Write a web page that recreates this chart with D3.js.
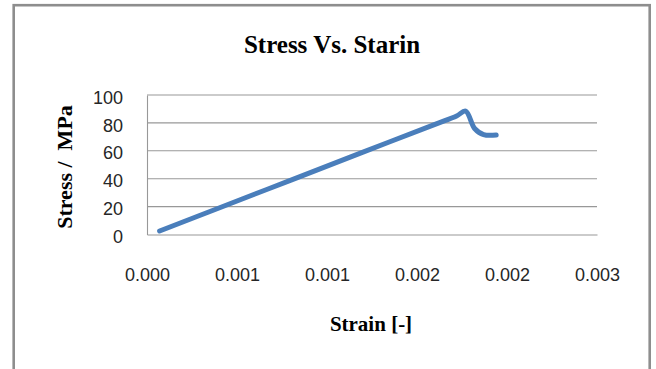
<!DOCTYPE html>
<html>
<head>
<meta charset="utf-8">
<script src="https://cdn.jsdelivr.net/npm/d3@7"></script>
<style>
  html, body { margin: 0; padding: 0; background: #fff; }
  svg { display: block; }
</style>
</head>
<body>
<svg id="chart" width="656" height="369"></svg>
<script>
// Measured stress-strain curve of the specimen
const strain = [0.00007, 0.0004, 0.0008, 0.0012, 0.0016, 0.00172, 0.00177, 0.00182, 0.00187, 0.00194];
const stress = [2.5, 19, 39, 59, 79, 85, 88.4, 76, 71.6, 71.3];

// Axis ticks and their printed labels (three decimals, as in the source workbook)
const xTicks = [0, 0.0005, 0.001, 0.0015, 0.002, 0.0025];
const xTickLabels = ["0.000", "0.001", "0.001", "0.002", "0.002", "0.003"];
const yTicks = [0, 20, 40, 60, 80, 100];
const yTickLabels = ["0", "20", "40", "60", "80", "100"];

const svg = d3.select("#chart");
const plot = { left: 147, right: 597, top: 95, bottom: 234.5 };

const x = d3.scaleLinear().domain([0, 0.0025]).range([plot.left, plot.right]);
const y = d3.scaleLinear().domain([0, 100]).range([plot.bottom, plot.top]);

// Outer chart frame
svg.append("rect")
  .attr("x", 13.7).attr("y", 5.2)
  .attr("width", 636).attr("height", 420)
  .attr("fill", "none")
  .attr("stroke", "#8e8e8e")
  .attr("stroke-width", 2.6);

// Horizontal gridlines
svg.append("g")
  .selectAll("line")
  .data(yTicks.filter(d => d > 0))
  .join("line")
  .attr("x1", plot.left).attr("x2", plot.right)
  .attr("y1", d => y(d)).attr("y2", d => y(d))
  .attr("stroke", "#989898")
  .attr("stroke-width", 1.1);

// Y axis
const yAxis = svg.append("g")
  .attr("transform", `translate(${plot.left},0)`)
  .call(d3.axisLeft(y).tickValues(yTicks).tickSize(0).tickPadding(24)
    .tickFormat((d, i) => yTickLabels[i]));
yAxis.select(".domain").attr("stroke", "#989898").attr("stroke-width", 1.1);
yAxis.selectAll("text")
  .attr("font-family", "Liberation Sans, Arial, sans-serif")
  .attr("font-size", 18)
  .attr("fill", "#262626")
  .attr("dy", "0.45em");

// X axis (labels sit well below the baseline)
const xAxis = svg.append("g")
  .attr("transform", `translate(0,${plot.bottom})`)
  .call(d3.axisBottom(x).tickValues(xTicks).tickSize(0).tickPadding(46)
    .tickFormat((d, i) => xTickLabels[i]));
xAxis.select(".domain").attr("stroke", "#989898").attr("stroke-width", 1.1);
xAxis.selectAll("text")
  .attr("font-family", "Liberation Sans, Arial, sans-serif")
  .attr("font-size", 18)
  .attr("fill", "#262626")
  .attr("dy", "0");

// Stress-strain curve
const pts = strain.map((s, i) => [s, stress[i]]);
svg.append("path")
  .datum(pts)
  .attr("fill", "none")
  .attr("stroke", "#4a7ebb")
  .attr("stroke-width", 5)
  .attr("stroke-linecap", "round")
  .attr("stroke-linejoin", "round")
  .attr("d", d3.line()
    .x(d => x(d[0]))
    .y(d => y(d[1]))
    .curve(d3.curveCatmullRom.alpha(0.5)));

// Titles
const serif = "Liberation Serif, Times New Roman, serif";
svg.append("text")
  .attr("x", 332).attr("y", 53)
  .attr("text-anchor", "middle")
  .attr("font-family", serif)
  .attr("font-weight", "bold")
  .attr("font-size", 25)
  .attr("fill", "#000")
  .text("Stress Vs. Starin");

svg.append("text")
  .attr("x", 371).attr("y", 331)
  .attr("text-anchor", "middle")
  .attr("font-family", serif)
  .attr("font-weight", "bold")
  .attr("font-size", 21)
  .attr("fill", "#000")
  .text("Strain [-]");

svg.append("text")
  .attr("transform", "translate(72,167) rotate(-90)")
  .attr("text-anchor", "middle")
  .attr("font-family", serif)
  .attr("font-weight", "bold")
  .attr("font-size", 22)
  .attr("fill", "#000")
  .style("white-space", "pre")
  .text("Stress /  MPa");
</script>
</body>
</html>
